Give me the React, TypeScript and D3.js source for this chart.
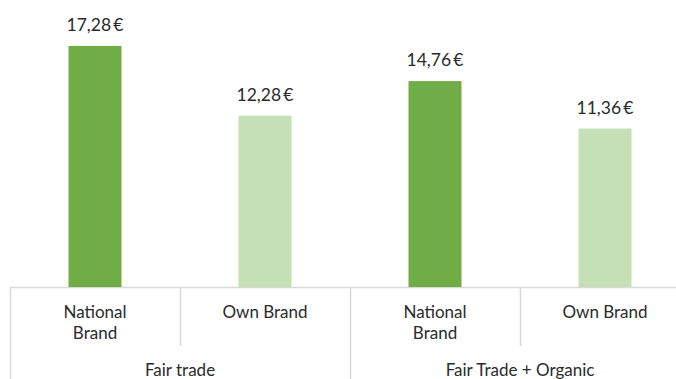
import React from "react";
import * as d3 from "d3";

const groups = ["Fair trade", "Fair Trade + Organic"];
const brands = ["National Brand", "Own Brand"];
const values = [17.28, 12.28, 14.76, 11.36];
const brandLabels = [["National", "Brand"], ["Own Brand"]];

const W = 676;
const H = 379;
const baseY = 287;
const colors = ["#70ad47", "#c5e0b4"];
const fontFamily = "Lato, 'Open Sans', sans-serif";

export default function App() {
  const items = groups.flatMap((g, gi) =>
    brands.map((b, bi) => ({ key: `${gi}-${bi}`, g, gi, b, bi, v: values[gi * brands.length + bi] }))
  );
  const x = d3
    .scaleBand<string>()
    .domain(items.map((d) => d.key))
    .range([10, 690])
    .paddingInner(0)
    .paddingOuter(0);
  const y = d3.scaleLinear().domain([0, 20]).range([baseY, baseY - 279]);
  const bw = 53;
  const fmt = (v: number) => d3.format(".2f")(v).replace(".", ",") + "\u2009€";
  const lineColor = "#d9d9d9";
  const groupW = x.bandwidth() * brands.length;
  const textColor = "#2b2b2b";

  return (
    <svg width={W} height={H} style={{ position: "absolute", left: 0, top: 0, background: "#fff" }}>
      <line x1={10} x2={690} y1={baseY + 0.5} y2={baseY + 0.5} stroke={lineColor} strokeWidth={1.5} />
      {items.map((d) => {
        const cx = (x(d.key) as number) + x.bandwidth() / 2;
        return (
          <g key={d.key}>
            <rect x={cx - bw / 2} y={y(d.v)} width={bw} height={baseY - y(d.v)} fill={colors[d.bi]} />
            <text
              x={cx}
              y={y(d.v) - 15}
              textAnchor="middle"
              fontSize={17.5}
              fill={textColor}
              fontFamily={fontFamily}
            >
              {fmt(d.v)}
            </text>
            {brandLabels[d.bi].map((t, i) => (
              <text
                key={i}
                x={cx}
                y={318 + i * 21}
                textAnchor="middle"
                fontSize={17}
                fill={textColor}
                fontFamily={fontFamily}
              >
                {t}
              </text>
            ))}
            {d.bi > 0 && (
              <line
                x1={(x(d.key) as number) + 0.5}
                x2={(x(d.key) as number) + 0.5}
                y1={baseY}
                y2={346}
                stroke={lineColor}
                strokeWidth={1.5}
              />
            )}
          </g>
        );
      })}
      {groups.map((g, gi) => {
        const gx = 10 + gi * groupW;
        return (
          <g key={g}>
            <line x1={gx + 0.5} x2={gx + 0.5} y1={baseY} y2={H} stroke={lineColor} strokeWidth={1.5} />
            <text
              x={gx + groupW / 2}
              y={376}
              textAnchor="middle"
              fontSize={17}
              fill={textColor}
              fontFamily={fontFamily}
            >
              {g}
            </text>
          </g>
        );
      })}
      <line x1={690.5} x2={690.5} y1={baseY} y2={H} stroke={lineColor} strokeWidth={1.5} />
    </svg>
  );
}
